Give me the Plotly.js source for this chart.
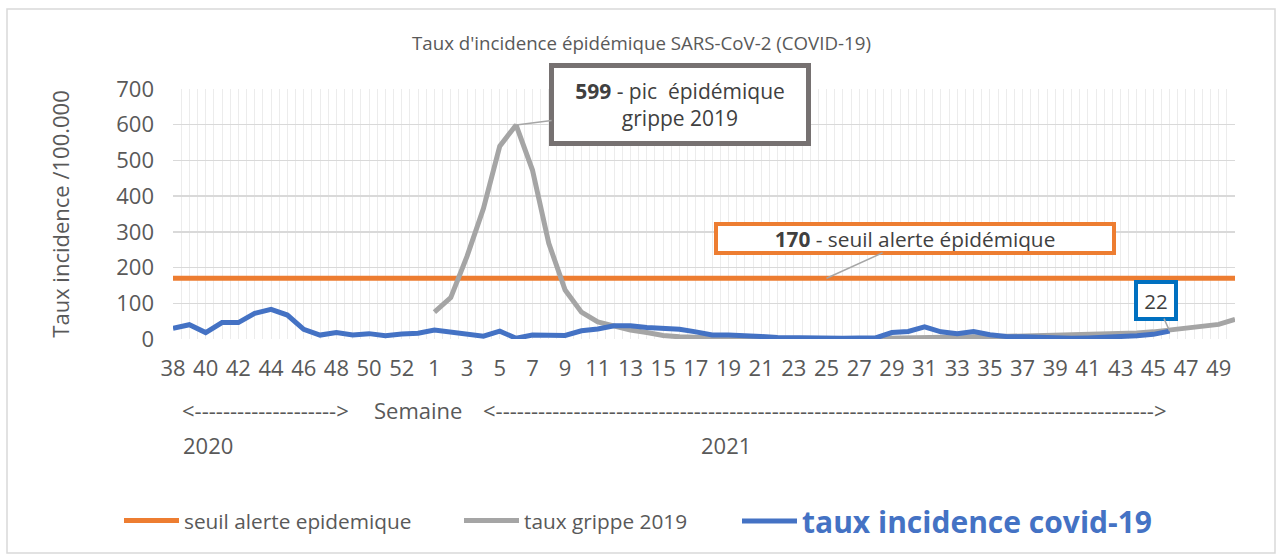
<!DOCTYPE html>
<html><head><meta charset="utf-8">
<script src="https://cdn.plot.ly/plotly-3.0.1.min.js"></script>
<style>html,body{margin:0;padding:0;background:#fff}#chart{width:1277px;height:560px}</style>
</head><body><div id="chart"></div>
<script>
// Semaines : 38→53 (2020) puis 1→50 (2021)
const semaines = ["38","39","40","41","42","43","44","45","46","47","48","49","50","51","52","53",
  "1","2","3","4","5","6","7","8","9","10","11","12","13","14","15","16","17","18","19","20",
  "21","22","23","24","25","26","27","28","29","30","31","32","33","34","35","36","37","38","39","40",
  "41","42","43","44","45","46","47","48","49","50"];

const covid = [30,40,18,46,46,72,83,67,27,11,18,11,15,9,14,16,
  25,20,16,8,22,2,11,11,10,23,28,37,37,32,29,27,20,11,11,10,
  7,4,3,1,1,2,3,3,18,21,34,20,15,21,12,7,6,4,2,2,
  3,4,7,9,13,22,null,null,null,null];

const grippe = [null,null,null,null,null,null,null,null,null,null,null,null,null,null,null,null,
  75,116,232,365,540,599,473,268,137,75,48,35,25,18,10,6,4,2,1,1,
  1,0,0,0,0,0,1,2,4,5,5,6,6,6,6,7,8,10,12,13,
  13,14,15,17,20,25,30,35,41,55];

const seuil = 170;
const yTicks = [0,100,200,300,400,500,600,700];

const noms = ["seuil alerte epidemique", "taux grippe 2019", "taux incidence covid-19"];
const couleurs = ["#ED7D31", "#A5A5A5", "#4472C4"];

const idx = semaines.map((_, i) => i);
const tickVals = idx.filter(i => i % 2 === 0);
const tickText = tickVals.map(i => semaines[i]);

const FONT = '"Open Sans", "Noto Sans", sans-serif';
const GRIS_TXT = '#595959';

const peakVal = Math.max(...grippe.filter(v => v !== null));
const peakIdx = grippe.indexOf(peakVal);
const seuilIdx = 40;
let lastCovid = covid.length - 1;
while (covid[lastCovid] === null) lastCovid--;

const traces = [
  {x: idx, y: semaines.map(() => seuil), name: noms[0], type: 'scatter', mode: 'lines',
   line: {color: couleurs[0], width: 5}, legend: 'legend', hoverinfo: 'skip'},
  {x: idx, y: grippe, name: noms[1], type: 'scatter', mode: 'lines',
   line: {color: couleurs[1], width: 5}, legend: 'legend2', connectgaps: false, hoverinfo: 'skip'},
  {x: idx, y: covid, name: noms[2], type: 'scatter', mode: 'lines',
   line: {color: couleurs[2], width: 5}, legend: 'legend3', hoverinfo: 'skip'}
];

const px2x = p => (p - 173) / 1062;
const px2y = p => (339 - p) / 250;

const layout = {
  width: 1277, height: 560,
  margin: {l: 173, r: 42, t: 89, b: 221},
  paper_bgcolor: '#ffffff', plot_bgcolor: '#ffffff',
  font: {family: FONT, color: GRIS_TXT},
  title: {text: "Taux d'incidence épidémique SARS-CoV-2 (COVID-19)",
    font: {family: FONT, size: 18.7, color: GRIS_TXT},
    x: 641.5/1277, xanchor: 'center', y: 1 - 43/560, yanchor: 'middle', xref: 'container', yref: 'container'},
  xaxis: {
    range: [0, semaines.length - 1], type: 'linear',
    tickmode: 'array', tickvals: tickVals, ticktext: tickText,
    tickfont: {family: FONT, size: 22, color: GRIS_TXT},
    showgrid: true, gridcolor: '#ececec', gridwidth: 1,
    minor: {tickmode: 'linear', tick0: 0, dtick: 0.5, showgrid: true, gridcolor: '#ececec', gridwidth: 1, ticks: ''},
    zeroline: false, showline: false, ticks: '', ticklabelstandoff: 14, fixedrange: true
  },
  yaxis: {
    range: [0, 700], tickmode: 'array', tickvals: yTicks, ticktext: yTicks.map(String),
    tickfont: {family: FONT, size: 22, color: GRIS_TXT},
    showgrid: true, gridcolor: '#d9d9d9', gridwidth: 1.5,
    zeroline: false, showline: false, ticks: '', ticklabelstandoff: 18,
    title: {text: 'Taux incidence /100.000', font: {family: FONT, size: 22, color: GRIS_TXT}, standoff: 40},
    fixedrange: true
  },
  showlegend: true,
  legend: {orientation: 'h', x: px2x(119), y: px2y(521), xanchor: 'left', yanchor: 'middle',
    font: {family: FONT, size: 20.8, color: GRIS_TXT}, itemwidth: 55, bgcolor: 'rgba(0,0,0,0)'},
  legend2: {orientation: 'h', x: px2x(459), y: px2y(521), xanchor: 'left', yanchor: 'middle',
    font: {family: FONT, size: 20.8, color: GRIS_TXT}, itemwidth: 55, bgcolor: 'rgba(0,0,0,0)'},
  legend3: {orientation: 'h', x: px2x(737), y: px2y(521), xanchor: 'left', yanchor: 'middle',
    font: {family: FONT, size: 30, color: couleurs[2], weight: 'bold'}, itemwidth: 55, bgcolor: 'rgba(0,0,0,0)'},
  shapes: [
    {type: 'rect', xref: 'paper', yref: 'paper', x0: px2x(7), x1: px2x(1275), y0: px2y(553), y1: px2y(9),
     line: {color: '#d9d9d9', width: 1.5}, fillcolor: 'rgba(0,0,0,0)', layer: 'below'}
  ],
  annotations: [
    {x: peakIdx, y: peakVal, xref: 'x', yref: 'y', ax: 164, ay: -21,
     text: '<b>' + peakVal + '</b> - pic\u00a0 épidémique<br>grippe 2019',
     font: {family: FONT, size: 21, color: '#404040'}, align: 'center',
     showarrow: true, arrowhead: 0, arrowcolor: '#A6A6A6', arrowwidth: 1.5,
     bordercolor: '#767171', borderwidth: 5, borderpad: 0, width: 252, height: 73, bgcolor: '#ffffff'},
    {x: seuilIdx, y: seuil, xref: 'x', yref: 'y', ax: 88, ay: -40,
     text: '<b>' + seuil + '</b> - seuil alerte épidémique',
     font: {family: FONT, size: 20.8, color: '#404040'}, align: 'center',
     showarrow: true, arrowhead: 0, arrowcolor: '#A6A6A6', arrowwidth: 1.5,
     bordercolor: '#ED7D31', borderwidth: 4, borderpad: 0, width: 394, height: 25, bgcolor: '#ffffff'},
    {x: lastCovid, y: covid[lastCovid], xref: 'x', yref: 'y', ax: -14, ay: -31,
     text: String(covid[lastCovid]),
     font: {family: FONT, size: 20.5, color: '#404040'}, align: 'center',
     showarrow: true, arrowhead: 0, arrowcolor: '#A6A6A6', arrowwidth: 1.5,
     bordercolor: '#0070C0', borderwidth: 4, borderpad: 0, width: 36, height: 33, bgcolor: '#ffffff'},
    {xref: 'paper', yref: 'paper', x: px2x(180), y: px2y(410), xanchor: 'left', yanchor: 'middle', showarrow: false,
     text: '<' + '-'.repeat(20) + '>', font: {family: FONT, size: 22, color: GRIS_TXT}},
    {xref: 'paper', yref: 'paper', x: px2x(372), y: px2y(410), xanchor: 'left', yanchor: 'middle', showarrow: false,
     text: 'Semaine', font: {family: FONT, size: 22, color: GRIS_TXT}},
    {xref: 'paper', yref: 'paper', x: px2x(481), y: px2y(410), xanchor: 'left', yanchor: 'middle', showarrow: false,
     text: '<' + '-'.repeat(93) + '>', font: {family: FONT, size: 22, color: GRIS_TXT}},
    {xref: 'paper', yref: 'paper', x: px2x(181), y: px2y(445), xanchor: 'left', yanchor: 'middle', showarrow: false,
     text: '2020', font: {family: FONT, size: 22, color: GRIS_TXT}},
    {xref: 'paper', yref: 'paper', x: px2x(699), y: px2y(445), xanchor: 'left', yanchor: 'middle', showarrow: false,
     text: '2021', font: {family: FONT, size: 22, color: GRIS_TXT}}
  ]
};

Plotly.newPlot('chart', traces, layout, {displayModeBar: false, staticPlot: true});
</script></body></html>
